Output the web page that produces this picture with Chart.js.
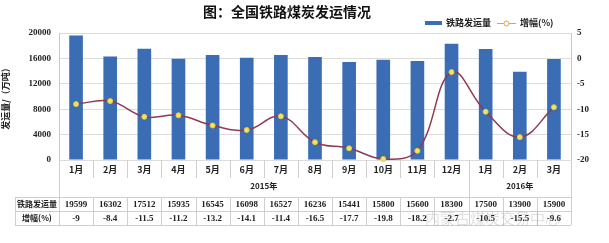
<!DOCTYPE html>
<html>
<head>
<meta charset="utf-8">
<script src="https://cdn.jsdelivr.net/npm/chart.js@4"></script>
<style>
  html, body { margin: 0; padding: 0; background: #fff; }
  #wrap { width: 609px; height: 243px; }
</style>
</head>
<body>
<div id="wrap"><canvas id="coal_graph" width="609" height="243"></canvas></div>
<script>
// 月份（2015年1月～2016年3月）
const months     = ["1月","2月","3月","4月","5月","6月","7月","8月","9月","10月","11月","12月","1月","2月","3月"];
// 铁路发运量（万吨）
const shipments  = [19599,16302,17512,15935,16545,16098,16527,16236,15441,15800,15600,18300,17500,13900,15900];
// 增幅（%）
const growth     = [-9,-8.4,-11.5,-11.2,-13.2,-14.1,-11.4,-16.5,-17.7,-19.8,-18.2,-2.7,-10.5,-15.5,-9.6];
// 年份分组
const yearLabels = ["2015年","2016年"];
const yearSpans  = [12,3];
// 坐标轴刻度
const leftTicks  = [0,4000,8000,12000,16000,20000];
const rightTicks = [-20,-15,-10,-5,0,5];

const CJK   = "'Noto Sans CJK SC', sans-serif";
const SERIF = "'Liberation Serif', serif";
const BLUE  = "#3b6db4";
const RED   = "#8e3a52";
const LINE  = "#cfcfcf";

// 标题・图例・下方数据表
const tablePlugin = {
    id: "table_plugin",
    afterDraw(chart){
        const ctx = chart.ctx;
        const x   = chart.scales.x;
        const area = chart.chartArea;
        const n   = months.length;

        let bounds = [area.left];
        for (let i=0;i<n-1;i++){
            bounds.push((x.getPixelForValue(i) + x.getPixelForValue(i+1)) / 2);
        }
        bounds.push(area.right);

        const yMonth = 170, yYear = 186, rowTop = 197, rowMid = 211, rowBot = 225, tableLeft = 15;

        ctx.save();
        ctx.strokeStyle = LINE;
        ctx.lineWidth = 1;
        ctx.beginPath();
        // 月份行的竖线
        for (let b of bounds){
            ctx.moveTo(Math.round(b)+0.5, area.bottom);
            ctx.lineTo(Math.round(b)+0.5, 178);
            ctx.moveTo(Math.round(b)+0.5, rowTop);
            ctx.lineTo(Math.round(b)+0.5, rowBot);
        }
        // 年份分组竖线
        let k = 0;
        let groupEdges = [0];
        for (let s of yearSpans){ k += s; groupEdges.push(k); }
        for (let g of groupEdges){
            const gx = Math.round(bounds[g]) + 0.5;
            ctx.moveTo(gx, area.bottom);
            ctx.lineTo(gx, rowBot);
        }
        // 表格横线
        for (let yy of [rowTop, rowMid, rowBot]){
            ctx.moveTo(tableLeft, yy+0.5);
            ctx.lineTo(area.right, yy+0.5);
        }
        ctx.moveTo(tableLeft+0.5, rowTop);
        ctx.lineTo(tableLeft+0.5, rowBot);
        ctx.stroke();

        ctx.fillStyle = "#222";
        ctx.textAlign = "center";
        ctx.textBaseline = "middle";

        // 月份
        ctx.font = "bold 9px " + CJK;
        for (let i=0;i<n;i++){
            ctx.fillText(months[i], x.getPixelForValue(i), yMonth);
        }
        // 年份
        ctx.font = "bold 8px " + CJK;
        for (let j=0;j<yearLabels.length;j++){
            const cx = (bounds[groupEdges[j]] + bounds[groupEdges[j+1]]) / 2;
            ctx.fillText(yearLabels[j], cx, yYear);
        }
        // 行标题
        ctx.font = "bold 8px " + CJK;
        ctx.fillText("铁路发运量", (tableLeft + area.left)/2, (rowTop+rowMid)/2);
        ctx.fillText("增幅(%)", (tableLeft + area.left)/2, (rowMid+rowBot)/2);
        // 数值
        ctx.font = "bold 9px " + SERIF;
        for (let i=0;i<n;i++){
            ctx.fillText(String(shipments[i]), x.getPixelForValue(i), (rowTop+rowMid)/2+1);
            ctx.fillText(String(growth[i]), x.getPixelForValue(i), (rowMid+rowBot)/2+1);
        }

        // 标题
        ctx.font = "bold 14px " + CJK;
        ctx.fillStyle = "#111";
        ctx.fillText("图：全国铁路煤炭发运情况", 287, 12);

        // 图例
        ctx.fillStyle = BLUE;
        ctx.fillRect(425, 21, 17, 4);
        ctx.fillStyle = "#222";
        ctx.textAlign = "left";
        ctx.font = "bold 9px " + CJK;
        ctx.fillText("铁路发运量", 446, 23);
        ctx.strokeStyle = "#d9a35a";
        ctx.beginPath();
        ctx.moveTo(497, 23.5);
        ctx.lineTo(516, 23.5);
        ctx.stroke();
        ctx.beginPath();
        ctx.arc(506.5, 23.5, 2.5, 0, Math.PI*2);
        ctx.fillStyle = "#fff";
        ctx.fill();
        ctx.stroke();
        ctx.fillStyle = "#222";
        ctx.fillText("增幅(%)", 520, 23);

        // 水印
        ctx.font = "15px " + CJK;
        ctx.fillStyle = "rgba(150,150,150,0.3)";
        ctx.fillText("内蒙古煤炭交易中心", 425, 218);
        ctx.restore();
    }
};

const ctx = document.getElementById("coal_graph").getContext("2d");
const coalChart = new Chart(ctx, {
    data: {
        labels: months,
        datasets: [
            {
                type: "line",
                label: "增幅(%)",
                data: growth,
                yAxisID: "y1",
                borderColor: RED,
                borderWidth: 1.5,
                tension: 0.4,
                pointRadius: 2.5,
                pointBackgroundColor: "#f2e65a",
                pointBorderColor: "#e2c84a",
                pointBorderWidth: 1,
                clip: false,
                order: 0
            },
            {
                type: "bar",
                label: "铁路发运量",
                data: shipments,
                yAxisID: "y",
                backgroundColor: BLUE,
                barPercentage: 0.4,
                categoryPercentage: 1.0,
                order: 1
            }
        ]
    },
    options: {
        responsive: false,
        animation: false,
        layout: { padding: { top: 33, bottom: 83, left: 0, right: 0 } },
        plugins: {
            legend: { display: false },
            title: { display: false },
            tooltip: { enabled: false }
        },
        scales: {
            x: {
                offset: true,
                ticks: { display: false },
                grid: { display: false },
                border: { display: false },
                afterFit(scale){ scale.height = 0; }
            },
            y: {
                position: "left",
                min: 0,
                max: 20000,
                afterBuildTicks(scale){ scale.ticks = leftTicks.map(v => ({ value: v })); },
                ticks: {
                    padding: 8,
                    color: "#222",
                    font: { family: SERIF, size: 9, weight: "bold" },
                    callback: v => String(v)
                },
                grid: { color: "#dcdcdc", drawTicks: false },
                border: { color: "#c8c8c8" },
                title: {
                    display: true,
                    text: "发运量/（万吨）",
                    color: "#222",
                    padding: { top: 0, bottom: 0 },
                    font: { family: CJK, size: 9, weight: "bold" }
                },
                afterFit(scale){ scale.width = 59; }
            },
            y1: {
                position: "right",
                min: -20,
                max: 5,
                afterBuildTicks(scale){ scale.ticks = rightTicks.map(v => ({ value: v })); },
                ticks: {
                    padding: 6,
                    color: "#222",
                    font: { family: SERIF, size: 9, weight: "bold" }
                },
                grid: { display: false, drawTicks: false },
                border: { color: "#c8c8c8" },
                afterFit(scale){ scale.width = 38; }
            }
        }
    },
    plugins: [tablePlugin]
});
</script>
</body>
</html>
